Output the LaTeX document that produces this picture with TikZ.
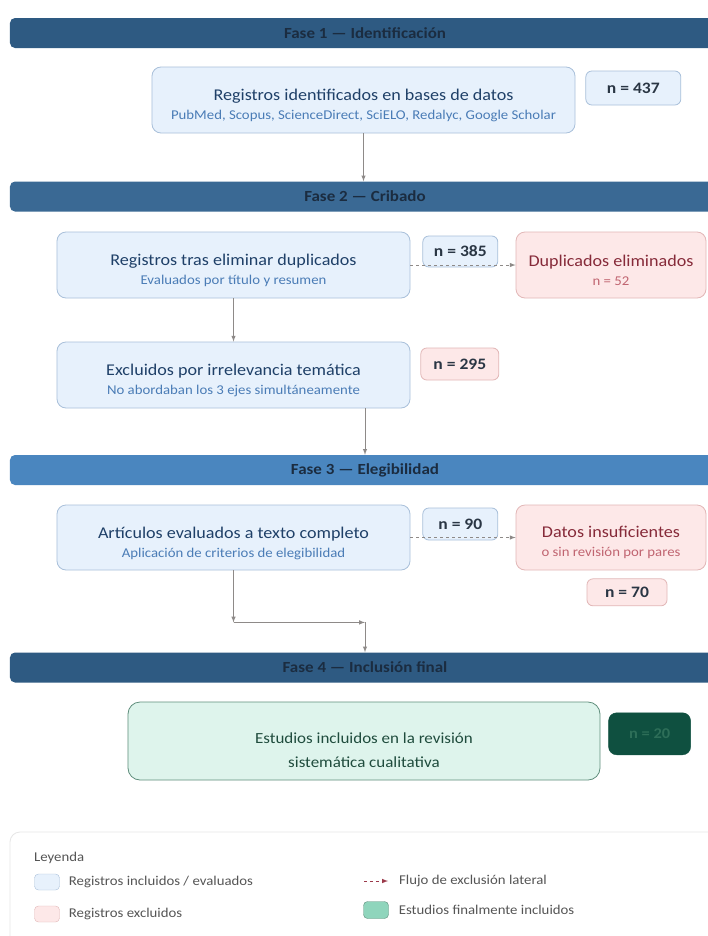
\documentclass[tikz,border=0pt]{standalone}
\usepackage{fontspec}
\setmainfont{Carlito}[FakeStretch=1.1]
\usetikzlibrary{positioning}

\definecolor{bandDark}{HTML}{2E5A82}
\definecolor{bandMid}{HTML}{3A6994}
\definecolor{bandLight}{HTML}{4A86BF}
\definecolor{bandText}{HTML}{1B2C40}
\definecolor{inFill}{HTML}{E7F1FC}
\definecolor{inDraw}{HTML}{A9C0DA}
\definecolor{inTitle}{HTML}{1F4068}
\definecolor{inSub}{HTML}{4A7CB6}
\definecolor{exFill}{HTML}{FDE8E8}
\definecolor{exDraw}{HTML}{E2B7B7}
\definecolor{exTitle}{HTML}{862A39}
\definecolor{exSub}{HTML}{C06470}
\definecolor{okFill}{HTML}{DEF4EC}
\definecolor{okDraw}{HTML}{5F8E7C}
\definecolor{okText}{HTML}{1F4C3D}
\definecolor{okDark}{HTML}{0F5040}
\definecolor{okDarkText}{HTML}{2D6E58}
\definecolor{okSwatch}{HTML}{8FD5BC}
\definecolor{nText}{HTML}{2A3644}
\definecolor{flowGrey}{HTML}{8E8A88}
\definecolor{lateralRed}{HTML}{9B3A4A}
\definecolor{legendDraw}{HTML}{E6E6E6}
\definecolor{legendText}{HTML}{555555}

\newcommand{\subline}[2]{{\color{#1}\fontsize{13.5}{15}\selectfont #2}}

\begin{document}
\begin{tikzpicture}[>=latex, x=1bp, y=-1bp, node distance=10bp,
    band/.style={fill=#1, rounded corners=5bp, minimum width=710bp, minimum height=30bp,
        inner sep=0pt, text=bandText, font=\bfseries\fontsize{15.5}{17}\selectfont},
    inbox/.style={draw=inDraw, fill=inFill, rounded corners=9bp, line width=0.8bp, align=center,
        text=inTitle, font=\fontsize{16.5}{19}\selectfont, inner sep=0pt, text height=42bp},
    exbox/.style={draw=exDraw, fill=exFill, rounded corners=9bp, line width=0.8bp, align=center,
        text=exTitle, font=\fontsize{16.5}{19}\selectfont, inner sep=0pt, text height=41bp},
    nbox/.style={draw=#1Draw, fill=#1Fill, rounded corners=6bp, line width=0.8bp, inner sep=0pt,
        text=nText, font=\bfseries\fontsize{16}{18}\selectfont},
    flow/.style={->, draw=flowGrey, line width=1bp},
    lateral/.style={->, dashed, draw=flowGrey, line width=1bp},
    swatch/.style={draw=#1Draw, fill=#1Fill, rounded corners=4bp, minimum width=25bp,
        minimum height=16bp, inner sep=0pt},
    legendlabel/.style={anchor=west, text=legendText, font=\fontsize{13.5}{15}\selectfont, inner sep=0pt}]

\clip (0,0) rectangle (708,936);
\fill[white] (0,0) rectangle (708,936);

% phase bands
\node[band=bandDark] (fase1) at (365,33) {Fase 1 --- Identificación};
\node[band=bandMid] (fase2) at (365,196.5) {Fase 2 --- Cribado};
\node[band=bandLight] (fase3) at (365,470) {Fase 3 --- Elegibilidad};
\node[band=bandDark] (fase4) at (365,667.5) {Fase 4 --- Inclusión final};

% fase 1
\node[inbox, minimum width=423bp, minimum height=66bp] (ident) at (363.5,100)
    {Registros identificados en bases de datos\\
     \subline{inSub}{PubMed, Scopus, ScienceDirect, SciELO, Redalyc, Google Scholar}};
\node[nbox=in, minimum width=95bp, minimum height=34bp, anchor=north west]
    (n437) at ([xshift=10bp,yshift=-4bp]ident.north east) {n = 437};

% fase 2
\node[inbox, minimum width=353bp, minimum height=66bp] (dedup) at (233.5,265)
    {Registros tras eliminar duplicados\\
     \subline{inSub}{Evaluados por título y resumen}};
\node[nbox=in, minimum width=75bp, minimum height=31bp, anchor=north west]
    (n385) at ([xshift=12bp,yshift=-4bp]dedup.north east) {n = 385};
\node[exbox, minimum width=190bp, minimum height=66bp] (dup) at (611,265)
    {Duplicados eliminados\\
     \subline{exSub}{n = 52}};
\node[inbox, minimum width=353bp, minimum height=66bp] (irrel) at (233.5,375)
    {Excluidos por irrelevancia temática\\
     \subline{inSub}{No abordaban los 3 ejes simultáneamente}};
\node[nbox=ex, minimum width=78bp, minimum height=32bp, anchor=north west]
    (n295) at ([xshift=10bp,yshift=-6bp]irrel.north east) {n = 295};

% fase 3
\node[inbox, minimum width=353bp, minimum height=65bp] (fulltext) at (233.5,537.5)
    {Artículos evaluados a texto completo\\
     \subline{inSub}{Aplicación de criterios de elegibilidad}};
\node[nbox=in, minimum width=75bp, minimum height=32bp, anchor=north west]
    (n90) at ([xshift=12bp,yshift=-3bp]fulltext.north east) {n = 90};
\node[exbox, minimum width=190bp, minimum height=65bp] (datos) at (611,537.5)
    {Datos insuficientes\\
     \subline{exSub}{o sin revisión por pares}};
\node[nbox=ex, minimum width=80bp, minimum height=27bp, below=8bp of datos, xshift=16bp]
    (n70) {n = 70};

% fase 4
\node[draw=okDraw, fill=okFill, rounded corners=12bp, line width=0.8bp, align=center,
    text=okText, font=\fontsize{15.5}{25}\selectfont, minimum width=472bp, minimum height=78bp,
    text height=54bp]
    (final) at (364,741) {Estudios incluidos en la revisión\\sistemática cualitativa};
\node[draw=okDark, fill=okDark, rounded corners=8bp, minimum width=82bp, minimum height=42bp,
    text=okDarkText, font=\bfseries\fontsize{15}{17}\selectfont, anchor=north west]
    (n20) at ([xshift=8bp,yshift=-11bp]final.north east) {n = 20};

% connectors
\coordinate (turn) at ([yshift=-52bp]fulltext.south);
\coordinate (join) at (turn -| fase4.north);

\draw[flow] (ident.south) -- (ident.south |- fase2.north);
\draw[flow] (dedup.south) -- (irrel.north);
\draw[flow] (irrel.south -| fase3.north) -- (fase3.north);
\draw[flow] (fulltext.south) -- (turn);
\draw[flow] (turn) -- (join);
\draw[flow] (join) -- (fase4.north);
\draw[lateral] (dedup.east) -- (dup.west);
\draw[lateral] (fulltext.east) -- (datos.west);

% legend
\draw[legendDraw, line width=0.8bp, rounded corners=10bp] (10,832) rectangle (720,960);
\node[legendlabel] (leyenda) at (34,858) {Leyenda};
\node[swatch=in] (swIn) at (47,882) {};
\node[legendlabel, right=9bp of swIn] (lbIn) {Registros incluidos / evaluados};
\node[swatch=ex] (swEx) at (47,914) {};
\node[legendlabel, right=9bp of swEx] (lbEx) {Registros excluidos};
\coordinate (latA) at (364,881);
\coordinate (latB) at (388,881);
\draw[->, dashed, draw=lateralRed, line width=1bp] (latA) -- (latB);
\node[legendlabel] (lbLat) at (399,881) {Flujo de exclusión lateral};
\node[draw=okDraw, fill=okSwatch, rounded corners=4bp, minimum width=25bp, minimum height=17bp,
    inner sep=0pt] (swOk) at (376,910) {};
\node[legendlabel, right=10bp of swOk] (lbOk) {Estudios finalmente incluidos};

\end{tikzpicture}
\end{document}
